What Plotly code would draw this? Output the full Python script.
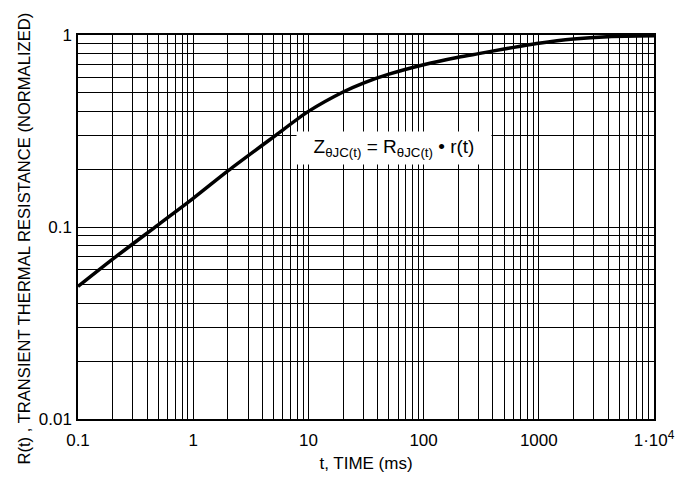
import plotly.graph_objects as go

t_ms = [0.1, 0.2, 0.5, 1, 2, 5, 10, 20, 30, 50, 100, 200, 300, 500, 1000, 2000, 4000, 10000]
r_t = [0.049, 0.068, 0.103, 0.141, 0.196, 0.295, 0.40, 0.505, 0.562, 0.625, 0.70, 0.766, 0.80, 0.845, 0.906, 0.953, 0.98, 0.99]

x_tickvals = [0.1, 1, 10, 100, 1000, 10000]
x_ticktext = ["0.1", "1", "10", "100", "1000", "1·10<sup>4</sup>"]
y_tickvals = [0.01, 0.1, 1]
y_ticktext = ["0.01", "0.1", "1"]

FONT = "Liberation Sans Narrow, Arial Narrow, Liberation Sans, Arial, sans-serif"

fig = go.Figure()
fig.add_trace(go.Scatter(x=t_ms, y=r_t, mode="lines",
                         line=dict(color="black", width=3.5, shape="spline", smoothing=0.8),
                         showlegend=False, hoverinfo="skip"))

axis_common = dict(
    type="log", showline=True, linecolor="black", linewidth=1.5, mirror=True,
    showgrid=True, gridcolor="black", gridwidth=1, ticks="", zeroline=False,
    automargin=False,
    tickfont=dict(family=FONT, size=17, color="black"),
)

fig.update_xaxes(**axis_common, range=[-1, 4], tickvals=x_tickvals, ticktext=x_ticktext,
                 ticklabelstandoff=5,
                 minor=dict(dtick="D1", showgrid=True, gridcolor="black", gridwidth=1, ticks=""),
                 title=dict(text="t, TIME (ms)", font=dict(family=FONT, size=17, color="black"), standoff=8))
fig.update_yaxes(**axis_common, range=[-2, 0], tickvals=y_tickvals, ticktext=y_ticktext,
                 ticklabelstandoff=1,
                 minor=dict(dtick="D1", showgrid=True, gridcolor="black", gridwidth=1, ticks=""))

# rotated y-axis title (placed as in the reference, slightly below plot centre)
fig.add_annotation(xref="paper", yref="paper", x=-0.092, y=0.47, textangle=-90,
                   xanchor="center", yanchor="middle",
                   text="R(t) , TRANSIENT THERMAL RESISTANCE (NORMALIZED)",
                   showarrow=False, font=dict(family=FONT, size=16.6, color="black"))

fig.add_annotation(xref="paper", yref="paper", x=0.5486, y=0.749,
                   text="Z<sub>θJC(t)</sub> = R<sub>θJC(t)</sub> • r(t)",
                   showarrow=False, bgcolor="white", borderpad=4, width=186, height=24,
                   font=dict(family=FONT, size=19, color="black"))

# page body adds an 8px offset, so the figure is 8px smaller on each axis
fig.update_layout(width=680, height=475, margin=dict(l=70, r=34, t=27, b=64),
                  plot_bgcolor="white", paper_bgcolor="white")

fig.write_html("out.html")
